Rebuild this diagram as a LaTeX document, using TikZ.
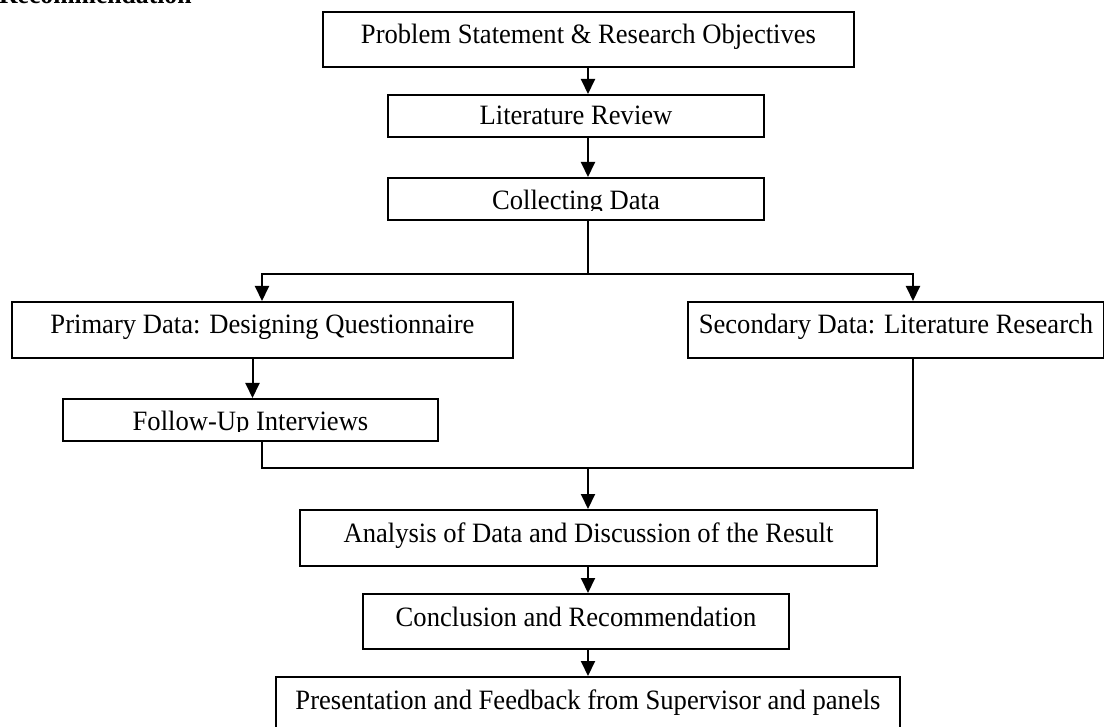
\documentclass[tikz,border=0pt]{standalone}
\usepackage{fontspec}
\setmainfont{Liberation Serif}[FakeStretch=0.95]
\usetikzlibrary{arrows.meta}

\tikzset{
  stage/.style={draw, line width=2pt, inner sep=0pt, anchor=north west},
  caption/.style={anchor=base, inner sep=0pt, font=\fontsize{28}{32}\selectfont},
  flow/.style={line width=2pt, -{Triangle[width=14pt,length=15pt]}},
  link/.style={line width=2pt},
}

\begin{document}
\begin{tikzpicture}[x=1pt, y=-1pt]
  \useasboundingbox (0,0) rectangle (1104,727);

  % heading, cut by the page top
  \node (heading) [anchor=base west, inner sep=0pt, font=\fontsize{27}{32}\selectfont\bfseries] at (-1,4) {Recommendation};

  % boxes
  \node (prob) [stage, minimum width=531pt, minimum height=55pt] at (322,11) {};
  \node (probtxt) [caption, yshift=-33pt] at (prob.north) {Problem Statement \& Research Objectives};

  \node (lit) [stage, minimum width=376pt, minimum height=42pt] at (387,94) {};
  \node (littxt) [caption, yshift=-31pt] at (lit.north) {Literature Review};

  \node (collect) [stage, minimum width=376pt, minimum height=42pt] at (387,177) {};
  \begin{scope}
    \clip (collect.north west) rectangle ([yshift=-34pt]collect.north east);
    \node (collecttxt) [caption, yshift=-33pt] at (collect.north) {Collecting Data};
  \end{scope}

  \node (primary) [stage, minimum width=501pt, minimum height=56pt] at (11,301) {};
  \node (primarytxt) [caption, yshift=-33pt] at (primary.north) {Primary Data: Designing Questionnaire};

  \node (secondary) [stage, minimum width=416pt, minimum height=56pt] at (687,301) {};
  \node (secondarytxt) [caption, yshift=-33pt] at (secondary.north) {Secondary Data: Literature Research};

  \node (follow) [stage, minimum width=375pt, minimum height=42pt] at (62,398) {};
  \begin{scope}
    \clip (follow.north west) rectangle ([yshift=-34pt]follow.north east);
    \node (followtxt) [caption, yshift=-33pt] at (follow.north) {Follow-Up Interviews};
  \end{scope}

  \node (analysis) [stage, minimum width=577pt, minimum height=56pt] at (299,509) {};
  \node (analysistxt) [caption, yshift=-33pt] at (analysis.north) {Analysis of Data and Discussion of the Result};

  \node (concl) [stage, minimum width=426pt, minimum height=55pt] at (362,593) {};
  \node (concltxt) [caption, yshift=-33pt] at (concl.north) {Conclusion and Recommendation};

  \node (present) [stage, minimum width=624pt, minimum height=70pt] at (275,676) {};
  \node (presenttxt) [caption, yshift=-33pt] at (present.north) {Presentation and Feedback from Supervisor and panels};

  % connectors
  \coordinate (fork) at (588,274);
  \coordinate (forkl) at (262,274);
  \coordinate (forkr) at (913,274);
  \coordinate (join) at (588,468);

  \draw[flow] (prob.south -| fork) -- (lit.north -| fork);
  \draw[flow] (lit.south -| fork) -- (collect.north -| fork);
  \draw[link] (collect.south -| fork) -- (fork);
  \draw[flow] (fork) -- (forkl) -- (forkl |- primary.north);
  \draw[flow] (fork) -- (forkr) -- (forkr |- secondary.north);
  \draw[flow] ([xshift=-10pt]primary.south) -- ([xshift=-10pt]primary.south |- follow.north);
  \draw[link] (follow.south -| forkl) -- (forkl |- join) -- (forkr |- join) -- (secondary.south -| forkr);
  \draw[flow] (join) -- (join |- analysis.north);
  \draw[flow] (analysis.south -| join) -- (concl.north -| join);
  \draw[flow] (concl.south -| join) -- (present.north -| join);
\end{tikzpicture}
\end{document}
